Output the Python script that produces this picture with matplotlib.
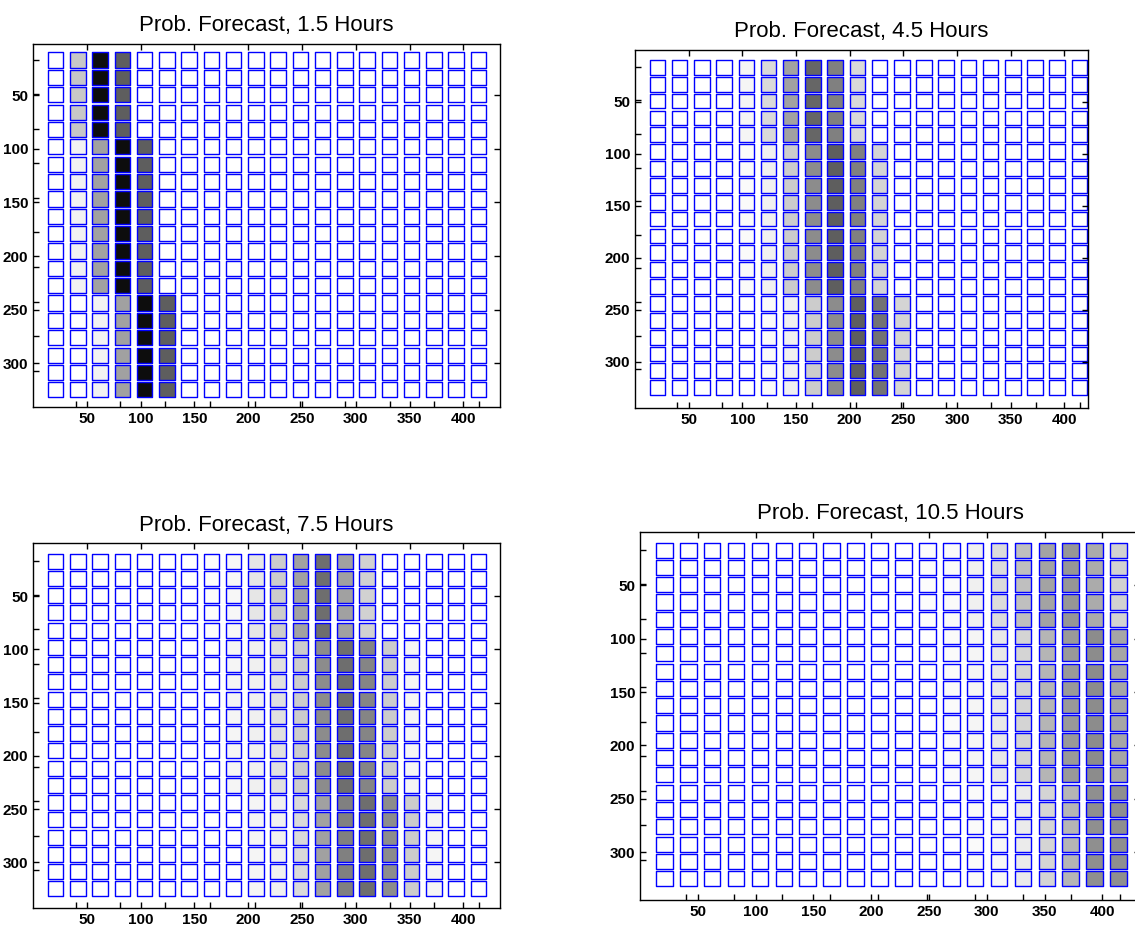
import numpy as np
import matplotlib
matplotlib.use('Agg')
import matplotlib.pyplot as plt
from matplotlib.patches import Rectangle
from matplotlib.collections import PatchCollection

plt.rcParams['font.family'] = ['Liberation Sans', 'DejaVu Sans']

# grid of forecast cells (20 x 20), cell centres in map units
col_x = np.linspace(21, 414, 20)
row_y = np.linspace(17, 325, 20)
seg_rows = [5, 9, 6]   # rows sharing the same column profile (top / middle / bottom)

titles = ['Prob. Forecast, 1.5 Hours', 'Prob. Forecast, 4.5 Hours',
          'Prob. Forecast, 7.5 Hours', 'Prob. Forecast, 10.5 Hours']

# gray level of each column (1 = white, 0 = black)
h15_top = [1, .78, .05, .37, 1, 1, 1, 1, 1, 1, 1, 1, 1, 1, 1, 1, 1, 1, 1, 1]
h15_mid = [1, .95, .63, .05, .37, 1, 1, 1, 1, 1, 1, 1, 1, 1, 1, 1, 1, 1, 1, 1]
h15_bot = [1, 1, .95, .63, .05, .37, 1, 1, 1, 1, 1, 1, 1, 1, 1, 1, 1, 1, 1, 1]

h45_top = [1, 1, 1, 1, .96, .85, .63, .40, .50, .85, 1, 1, 1, 1, 1, 1, 1, 1, 1, 1]
h45_mid = [1, 1, 1, 1, .98, .94, .80, .55, .37, .50, .83, 1, 1, 1, 1, 1, 1, 1, 1, 1]
h45_bot = [1, 1, 1, 1, 1, .98, .94, .80, .55, .37, .45, .83, 1, 1, 1, 1, 1, 1, 1, 1]

h75_top = [1, 1, 1, 1, 1, 1, 1, .99, .97, .90, .80, .63, .43, .63, .82, 1, 1, 1, 1, 1]
h75_mid = [1, 1, 1, 1, 1, 1, 1, 1, .96, .94, .88, .80, .55, .43, .52, .80, .96, 1, 1, 1]
h75_bot = [1, 1, 1, 1, 1, 1, 1, 1, 1, .96, .94, .85, .63, .50, .43, .55, .80, .96, 1, 1]

h105_top = [1, 1, 1, 1, 1, 1, 1, 1, 1, 1, 1, .99, .98, .94, .86, .75, .64, .59, .67, .82]
h105_mid = [1, 1, 1, 1, 1, 1, 1, 1, 1, 1, 1, 1, .98, .96, .91, .83, .71, .60, .55, .65]
h105_bot = [1, 1, 1, 1, 1, 1, 1, 1, 1, 1, 1, 1, 1, .98, .97, .92, .83, .71, .56, .56]

profiles = [(h15_top, h15_mid, h15_bot), (h45_top, h45_mid, h45_bot),
            (h75_top, h75_mid, h75_bot), (h105_top, h105_mid, h105_bot)]

# axes boxes in pixels: left, right, top, bottom ; and axis limits
fig_w, fig_h = 1135, 925
boxes = [(33, 500, 44, 407), (635, 1088, 50, 408),
         (33, 500, 543, 908), (640, 1140, 532, 900)]
xmax = [434, 422, 434, 432.5]
ylims = [(341, 2), (344.5, 0.3), (343, 0), (345, 0)]

fig = plt.figure(figsize=(fig_w / 100, fig_h / 100), dpi=100)

for k in range(4):
    l, r, t, b = boxes[k]
    ax = fig.add_axes([l / fig_w, 1 - b / fig_h, (r - l) / fig_w, (b - t) / fig_h])
    grid = np.vstack([np.tile(p, (n, 1)) for p, n in zip(profiles[k], seg_rows)])

    cells = []
    for i, y in enumerate(row_y):
        for j, x in enumerate(col_x):
            cells.append(Rectangle((x - 7.2, y - 7.1), 14.4, 14.2))
    face = [(g, g, g) for g in grid.ravel()]
    pc = PatchCollection(cells, facecolors=face, edgecolors='#0000ff', linewidths=1.0)
    ax.add_collection(pc)

    ax.set_xlim(0, xmax[k])
    ax.set_ylim(*ylims[k])
    ax.set_xticks(range(50, 401, 50))
    ax.set_yticks(range(50, 301, 50))
    ax.set_xticks(np.arange(39.5, 420, 41.7), minor=True)
    ax.set_yticks(np.arange(16.5, 330, 32.3), minor=True)
    ax.tick_params(which='major', direction='in', top=True, right=True, length=4,
                   width=1, labelsize=11)
    ax.tick_params(which='minor', direction='in', top=False, right=False, length=4,
                   width=1)
    for lab in ax.get_xticklabels() + ax.get_yticklabels():
        lab.set_fontweight('bold')
    for s in ax.spines.values():
        s.set_linewidth(1)
    ax.set_title(titles[k], fontsize=16, pad=9)

fig.savefig('out.png', dpi=100)
